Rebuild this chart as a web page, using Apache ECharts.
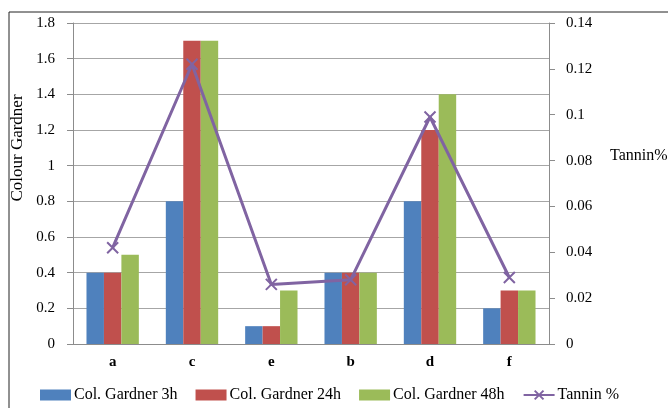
<!DOCTYPE html>
<html>
<head>
<meta charset="utf-8">
<script src="https://cdn.jsdelivr.net/npm/echarts@6/dist/echarts.min.js"></script>
<style>html,body{margin:0;padding:0;background:#fff}#c{width:668px;height:408px}</style>
</head>
<body>
<div id="c"></div>
<script>
const categories = ['a', 'c', 'e', 'b', 'd', 'f'];
const gardner3h = [0.4, 0.8, 0.1, 0.4, 0.8, 0.2];
const gardner24h = [0.4, 1.7, 0.1, 0.4, 1.2, 0.3];
const gardner48h = [0.5, 1.7, 0.3, 0.4, 1.4, 0.3];
const tannin = [0.042, 0.122, 0.026, 0.028, 0.099, 0.029];
const leftTicks = [0, 0.2, 0.4, 0.6, 0.8, 1, 1.2, 1.4, 1.6, 1.8];
const rightTicks = [0, 0.02, 0.04, 0.06, 0.08, 0.1, 0.12, 0.14];

const font = 'Liberation Serif';
const chart = echarts.init(document.getElementById('c'));
const xPath = 'path://M0,0L10,10M10,0L0,10';
chart.setOption({
  animation: false,
  textStyle: {fontFamily: font},
  grid: {left: 73, right: 119, top: 23, bottom: 64},
  graphic: [
    {type: 'rect', shape: {x: 9, y: 12, width: 700, height: 450}, style: {fill: 'none', stroke: '#222', lineWidth: 1}, silent: true},
    {type: 'text', x: 18, y: 148, rotation: Math.PI / 2, style: {text: 'Colour Gardner', font: '17px "Liberation Serif"', fill: '#000', align: 'center', verticalAlign: 'middle'}},
    {type: 'text', x: 610, y: 156, style: {text: 'Tannin%', font: '16px "Liberation Serif"', fill: '#000', align: 'left', verticalAlign: 'middle'}}
  ],
  legend: {
    top: 387, left: 40, padding: 0,
    itemWidth: 31, itemHeight: 11, itemGap: 18,
    textStyle: {fontFamily: font, fontSize: 16, color: '#000', padding: [0, 0, 0, -2]},
    data: [
      {name: 'Col. Gardner 3h', icon: 'rect'},
      {name: 'Col. Gardner 24h', icon: 'rect'},
      {name: 'Col. Gardner 48h', icon: 'rect'},
      {name: 'Tannin %'}
    ]
  },
  xAxis: {
    type: 'category', data: categories,
    axisLine: {lineStyle: {color: '#8c8c8c'}},
    axisTick: {show: false},
    axisLabel: {fontFamily: font, fontSize: 15, fontWeight: 'bold', color: '#000', margin: 11}
  },
  yAxis: [
    {
      type: 'value', min: 0, max: 1.8, interval: 0.2,
      axisLine: {show: true, lineStyle: {color: '#8c8c8c'}},
      axisTick: {show: true, length: 6, lineStyle: {color: '#8c8c8c'}},
      splitLine: {lineStyle: {color: '#a6a6a6'}},
      axisLabel: {fontFamily: font, fontSize: 15, color: '#000', margin: 18,
        formatter: v => { const t = leftTicks.find(x => Math.abs(x - v) < 1e-6); return t === undefined ? '' : String(t); }}
    },
    {
      type: 'value', min: 0, max: 0.14, interval: 0.02,
      axisLine: {show: true, lineStyle: {color: '#8c8c8c'}},
      axisTick: {show: true, length: 6, lineStyle: {color: '#8c8c8c'}},
      splitLine: {show: false},
      axisLabel: {fontFamily: font, fontSize: 15, color: '#000', margin: 17,
        formatter: v => { const t = rightTicks.find(x => Math.abs(x - v) < 1e-6); return t === undefined ? '' : String(t); }}
    }
  ],
  series: [
    {name: 'Col. Gardner 3h', type: 'bar', data: gardner3h, barGap: '0%', barCategoryGap: '34%', itemStyle: {color: '#4F81BD'}},
    {name: 'Col. Gardner 24h', type: 'bar', data: gardner24h, barGap: '0%', barCategoryGap: '34%', itemStyle: {color: '#C0504D'}},
    {name: 'Col. Gardner 48h', type: 'bar', data: gardner48h, barGap: '0%', barCategoryGap: '34%', itemStyle: {color: '#9BBB59'}},
    {name: 'Tannin %', type: 'line', yAxisIndex: 1, data: tannin,
      symbol: xPath, symbolSize: 11, showAllSymbol: true,
      lineStyle: {color: '#8064A2', width: 3},
      itemStyle: {color: '#8064A2', borderColor: '#8064A2', borderWidth: 2}}
  ]
});
</script>
</body>
</html>
